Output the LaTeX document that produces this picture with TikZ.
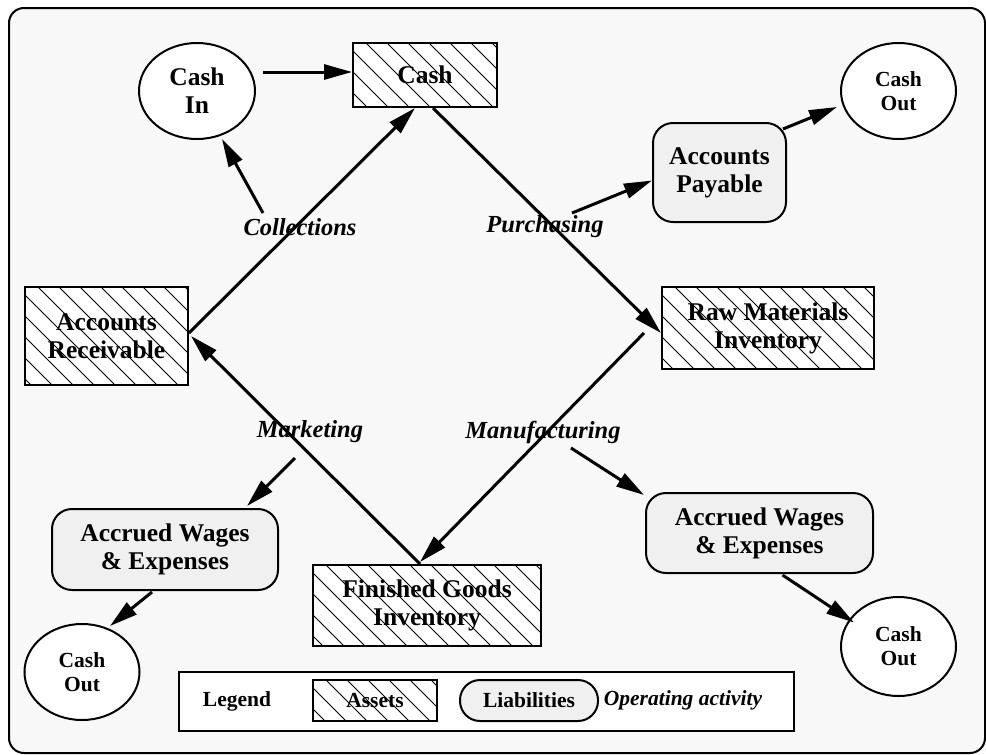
\documentclass[tikz,border=0pt]{standalone}
\usepackage{fontspec}
\setmainfont{Liberation Serif}
\usetikzlibrary{arrows.meta,shapes.geometric,calc}
\definecolor{bgc}{HTML}{F8F8F8}
\definecolor{liab}{HTML}{F0F0F0}
\tikzset{
  big/.style={font=\fontsize{25.5}{28}\selectfont\bfseries},
  small/.style={font=\fontsize{21.5}{24}\selectfont\bfseries},
  hatch/.style={path picture={
    \foreach \k in {0,21,...,520} {
      \draw[line width=1pt] ($(path picture bounding box.north west)+(\k-260,0)$) -- ++(320,320);
    }}},
  asset/.style={draw,line width=2pt,fill=white,rectangle,inner sep=0pt,align=center,big,hatch},
  liability/.style={draw,line width=2pt,fill=liab,rectangle,rounded corners=20pt,inner sep=0pt,align=center,big},
  cashnode/.style={draw,line width=2pt,fill=white,ellipse,inner sep=0pt,align=center},
  activity/.style={font=\fontsize{24.5}{27}\selectfont\bfseries\itshape,inner sep=0pt},
  flow/.style={line width=3pt,-{Triangle[length=28pt,width=15pt]}}
}
\begin{document}
\begin{tikzpicture}[x=1pt,y=-1pt]
\useasboundingbox (0,0) rectangle (986,755);
\draw[line width=2pt,fill=bgc,rounded corners=15pt] (9,8) rectangle (985,753);

% nodes
\node[asset,minimum width=144pt,minimum height=64pt] (cash) at (425,75) {Cash};
\node[cashnode,big,minimum width=116pt,minimum height=96pt] (cashin) at (197,91) {Cash\\In};
\node[asset,minimum width=163pt,minimum height=98pt] (ar) at (106.5,336) {Accounts\\Receivable};
\node[liability,minimum width=133pt,minimum height=99pt] (ap) at (719.5,172.5) {Accounts\\Payable};
\node[cashnode,small,minimum width=115pt,minimum height=96pt] (cotop) at (898.5,91) {Cash\\Out};
\node[asset,minimum width=212pt,minimum height=82pt] (rm) at (768,328) {Raw Materials\\Inventory};
\node[asset,minimum width=228pt,minimum height=81pt] (fg) at (427,605.5) {Finished Goods\\Inventory};
\node[liability,minimum width=226pt,minimum height=81pt] (awl) at (165,549.5) {Accrued Wages\\\& Expenses};
\node[cashnode,small,minimum width=115pt,minimum height=96pt] (col) at (82,672) {Cash\\Out};
\node[liability,minimum width=227pt,minimum height=80pt] (awr) at (759.5,533) {Accrued Wages\\\& Expenses};
\node[cashnode,small,minimum width=115pt,minimum height=99pt] (cor) at (898.5,646.5) {Cash\\Out};

% activity labels
\node[activity] (coll) at (300,227) {Collections};
\node[activity] (purch) at (545,227) {Purchasing};
\node[activity] (mkt) at (310,432) {Marketing};
\node[activity] (manu) at (543,432) {Manufacturing};

% legend
\node[draw,line width=2pt,fill=white,minimum width=615pt,minimum height=59pt,inner sep=0pt] (legend) at (486.5,701.5) {};
\node[small,inner sep=0pt] (legtext) at (237,701) {Legend};
\node[asset,small,minimum width=124pt,minimum height=41pt] (legasset) at (375,700.5) {Assets};
\node[liability,small,minimum width=138pt,minimum height=41pt] (legliab) at (529,700.5) {Liabilities};
\node[font=\fontsize{21.5}{24}\selectfont\bfseries\itshape,inner sep=0pt] (legact) at (683,700) {Operating activity};

% free ends
\coordinate (collS) at (263,213);
\coordinate (purchS) at (572,213);
\coordinate (mktS) at (295,458);
\coordinate (manuS) at (571,448);
\coordinate (rmS) at (644,333);

% connectors
\draw[flow] ($(cashin.east)+(7,-19)$) -- ($(cash.west)+(0,-3)$);
\draw[flow] ($(ar.east)+(0,-3)$) -- ($(cash.south)+(-10,0)$);
\draw[flow] ($(cash.south)+(8,0)$) -- ($(rm.west)+(0,5)$);
\draw[flow] (rmS) -- ($(fg.north)+(-7,-2)$);
\draw[flow] ($(fg.north)+(-7,0)$) -- ($(ar.east)+(2,0)$);
\draw[flow] (collS) -- ($(cashin.south)+(25,-1)$);
\draw[flow] (purchS) -- ($(ap.west)+(0,8)$);
\draw[flow] ($(ap.north east)+(-4,7)$) -- ($(cotop.west)+(-3,16)$);
\draw[flow] (mktS) -- ($(awl.north)+(82,-2)$);
\draw[flow] ($(awl.south)+(-13,1)$) -- ($(col.north)+(28,3)$);
\draw[flow] (manuS) -- ($(awr.north west)+(-1,3)$);
\draw[flow] ($(awr.south)+(23,1)$) -- ($(cor.west)+(14,-24)$);
\end{tikzpicture}
\end{document}
